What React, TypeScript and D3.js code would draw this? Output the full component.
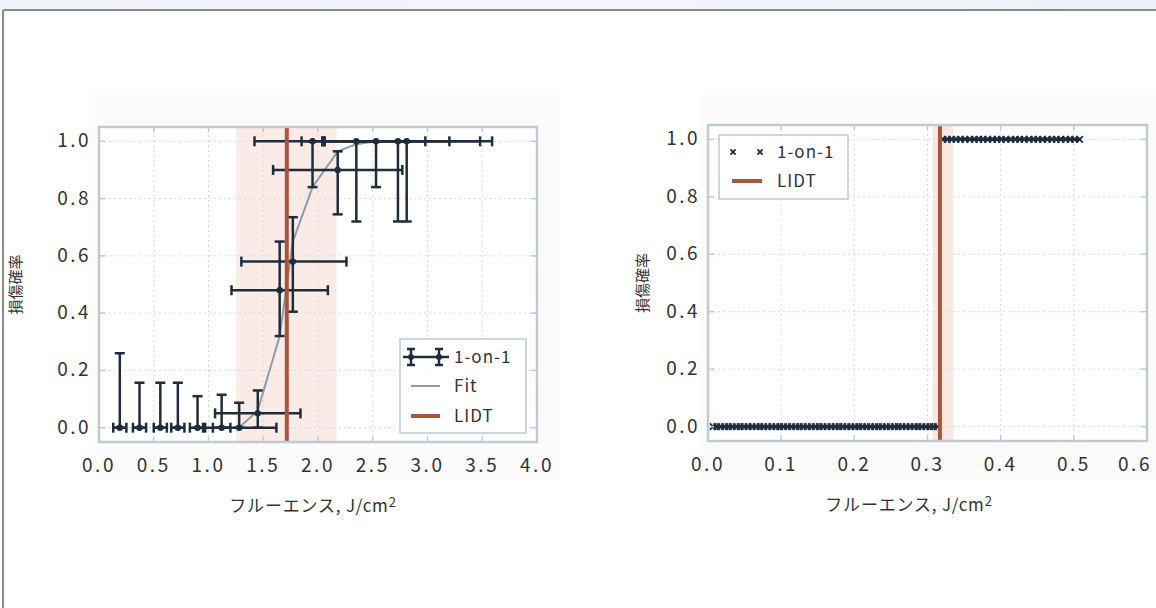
import React from "react";
import * as d3 from "d3";

// ---------- Left chart data ----------
const leftTicksX = [0.0, 0.5, 1.0, 1.5, 2.0, 2.5, 3.0, 3.5, 4.0];
const ticksY = [0.0, 0.2, 0.4, 0.6, 0.8, 1.0];
const leftX = [0.19, 0.37, 0.56, 0.72, 0.9, 1.12, 1.28, 1.45, 1.65, 1.77, 1.95, 2.18, 2.35, 2.53, 2.73, 2.81];
const leftY = [0, 0, 0, 0, 0, 0, 0, 0.05, 0.48, 0.58, 1.0, 0.9, 1.0, 1.0, 1.0, 1.0];
const leftYLo = [0, 0, 0, 0, 0, 0, 0, 0, 0.32, 0.405, 0.84, 0.745, 0.72, 0.84, 0.72, 0.72];
const leftYHi = [0.26, 0.157, 0.157, 0.157, 0.11, 0.115, 0.087, 0.13, 0.65, 0.735, 1.0, 0.965, 1.0, 1.0, 1.0, 1.0];
const leftXLo = [0.13, 0.31, 0.5, 0.66, 0.83, 1.04, 0.95, 1.06, 1.21, 1.3, 1.42, 1.59, 1.85, 2.04, 2.06, 2.04];
const leftXHi = [0.25, 0.43, 0.62, 0.78, 0.97, 1.2, 1.62, 1.84, 2.09, 2.26, 2.06, 2.77, 2.98, 3.2, 3.48, 3.59];
const fitX = [1.28, 1.45, 1.65, 1.77, 1.95, 2.18, 2.35, 2.53];
const fitY = [0.0, 0.06, 0.32, 0.65, 0.84, 0.965, 0.99, 1.0];
const leftLidt = 1.715;
const leftBand = [1.25, 2.17];

// ---------- Right chart data ----------
const rightTicksX = [0.0, 0.1, 0.2, 0.3, 0.4, 0.5, 0.6];
const rightX0 = [0.007, 0.012, 0.017, 0.023, 0.028, 0.033, 0.039, 0.044, 0.049, 0.055, 0.06, 0.066, 0.071, 0.076, 0.082, 0.087, 0.093, 0.098, 0.103, 0.109, 0.114, 0.12, 0.125, 0.13, 0.136, 0.141, 0.147, 0.152, 0.157, 0.163, 0.168, 0.174, 0.179, 0.184, 0.19, 0.195, 0.201, 0.206, 0.211, 0.217, 0.222, 0.228, 0.233, 0.238, 0.244, 0.249, 0.255, 0.26, 0.265, 0.271, 0.276, 0.282, 0.287, 0.292, 0.298, 0.303, 0.308, 0.313];
const rightX1 = [0.321, 0.327, 0.333, 0.339, 0.345, 0.351, 0.358, 0.364, 0.37, 0.376, 0.382, 0.389, 0.395, 0.401, 0.407, 0.414, 0.42, 0.426, 0.432, 0.439, 0.445, 0.451, 0.457, 0.464, 0.47, 0.476, 0.482, 0.489, 0.495, 0.501, 0.508];
const rightLidt = 0.317;
const rightBand = [0.307, 0.335];

const xTitle = "フルーエンス, J/cm";
const yTitle = "損傷確率";

const NAVY = "#1f2c3c";
const LIDT_C = "#a9553a";
const FIT_C = "#8d9cab";
const FRAME_C = "#bfcad3";
const GRID_C = "#d3d8dd";
const TEXT_C = "#333333";
const FONT = "'Noto Sans CJK JP', 'Noto Sans', sans-serif";

function fmt(v: number) {
  return v.toFixed(1);
}

function Grid({ x, y, ticksX, ticksYv }: any) {
  const [x0, x1] = x.range();
  const [y0, y1] = y.range();
  return (
    <g>
      {ticksX.map((t: number, i: number) => (
        <line key={"gx" + i} x1={x(t)} x2={x(t)} y1={y0} y2={y1} stroke={GRID_C} strokeWidth={1} strokeDasharray="2,3" />
      ))}
      {ticksYv.map((t: number, i: number) => (
        <line key={"gy" + i} x1={x0} x2={x1} y1={y(t)} y2={y(t)} stroke={GRID_C} strokeWidth={1} strokeDasharray="2,3" />
      ))}
    </g>
  );
}

function FrameBox({ x, y, ticksX, ticksYv }: any) {
  const [x0, x1] = x.range();
  const [y0, y1] = y.range();
  return (
    <g>
      {ticksX.map((t: number, i: number) => (
        <g key={"tx" + i}>
          <line x1={x(t)} x2={x(t)} y1={y0} y2={y0 - 5} stroke={FRAME_C} strokeWidth={1.5} />
          <line x1={x(t)} x2={x(t)} y1={y1} y2={y1 + 5} stroke={FRAME_C} strokeWidth={1.5} />
        </g>
      ))}
      {ticksYv.map((t: number, i: number) => (
        <g key={"ty" + i}>
          <line x1={x0} x2={x0 + 6} y1={y(t)} y2={y(t)} stroke={FRAME_C} strokeWidth={1.5} />
          <line x1={x1} x2={x1 - 6} y1={y(t)} y2={y(t)} stroke={FRAME_C} strokeWidth={1.5} />
        </g>
      ))}
      <rect x={x0} y={y1} width={x1 - x0} height={y0 - y1} fill="none" stroke={FRAME_C} strokeWidth={2.5} />
    </g>
  );
}

function AxisLabels({ x, y, ticksX, ticksYv, cx, maxLabelX, yTitleOffset }: any) {
  const [x0] = x.range();
  const [y0, y1] = y.range();
  return (
    <g fontFamily={FONT} fill={TEXT_C}>
      {ticksX.map((t: number, i: number) => (
        <text key={"lx" + i} x={Math.min(x(t), maxLabelX)} y={y0 + 30} fontSize={19} textAnchor="middle" letterSpacing={2.5}>
          {fmt(t)}
        </text>
      ))}
      {ticksYv.map((t: number, i: number) => (
        <text key={"ly" + i} x={x0 - 8} y={y(t) + 6} fontSize={19} textAnchor="end" letterSpacing={2.5}>
          {fmt(t)}
        </text>
      ))}
      <text x={cx} y={y0 + 70} fontSize={17} textAnchor="middle" letterSpacing={0.8}>
        {xTitle}
        <tspan fontSize={13} dy={-5}>2</tspan>
      </text>
      <text
        transform={`translate(${x0 - yTitleOffset},${(y0 + y1) / 2}) rotate(-90)`}
        fontSize={15}
        textAnchor="middle"
      >
        {yTitle}
      </text>
    </g>
  );
}

function LeftChart() {
  const x = d3.scaleLinear().domain([0, 4]).range([99, 537]);
  const y = d3.scaleLinear().domain([-0.05, 1.05]).range([442, 127]);
  const fitLine = d3
    .line<number>()
    .x((_, i) => x(fitX[i]))
    .y((d) => y(d));
  const cap = 5;
  return (
    <g>
      <rect x={90} y={95} width={470} height={385} fill="#fbfbfb" />
      <rect x={99} y={127} width={438} height={315} fill="#ffffff" />
      <rect x={x(leftBand[0])} y={127} width={x(leftBand[1]) - x(leftBand[0])} height={315} fill="#f4d3c8" opacity={0.45} />
      <Grid x={x} y={y} ticksX={leftTicksX} ticksYv={ticksY} />
      <path d={fitLine(fitY) || ""} fill="none" stroke={FIT_C} strokeWidth={2} />
      {leftX.map((v, i) => (
        <g key={"e" + i} stroke={NAVY} strokeWidth={2.5}>
          <line x1={x(leftXLo[i])} x2={x(leftXHi[i])} y1={y(leftY[i])} y2={y(leftY[i])} />
          <line x1={x(leftXLo[i])} x2={x(leftXLo[i])} y1={y(leftY[i]) - cap} y2={y(leftY[i]) + cap} />
          <line x1={x(leftXHi[i])} x2={x(leftXHi[i])} y1={y(leftY[i]) - cap} y2={y(leftY[i]) + cap} />
          <line x1={x(v)} x2={x(v)} y1={y(leftYLo[i])} y2={y(leftYHi[i])} />
          <line x1={x(v) - cap} x2={x(v) + cap} y1={y(leftYLo[i])} y2={y(leftYLo[i])} />
          <line x1={x(v) - cap} x2={x(v) + cap} y1={y(leftYHi[i])} y2={y(leftYHi[i])} />
          <circle cx={x(v)} cy={y(leftY[i])} r={3.2} fill={NAVY} stroke="none" />
        </g>
      ))}
      <line x1={x(leftLidt)} x2={x(leftLidt)} y1={127} y2={442} stroke={LIDT_C} strokeWidth={4} />
      <FrameBox x={x} y={y} ticksX={leftTicksX} ticksYv={ticksY} />
      {/* legend */}
      <g>
        <rect x={400} y={339} width={126} height={94} fill="#ffffff" fillOpacity={0.85} stroke={FRAME_C} strokeWidth={1.5} />
        <g stroke={NAVY} strokeWidth={2.5}>
          <line x1={403} x2={449} y1={357} y2={357} />
          {[411, 439].map((mx) => (
            <g key={mx}>
              <line x1={mx} x2={mx} y1={349} y2={365} />
              <line x1={mx - 4} x2={mx + 4} y1={349} y2={349} />
              <line x1={mx - 4} x2={mx + 4} y1={365} y2={365} />
              <circle cx={mx} cy={357} r={3} fill={NAVY} stroke="none" />
            </g>
          ))}
        </g>
        <line x1={411} x2={440} y1={386} y2={386} stroke={FIT_C} strokeWidth={2} />
        <line x1={411} x2={440} y1={416} y2={416} stroke={LIDT_C} strokeWidth={4} />
        <g fontFamily={FONT} fontSize={17} fill={TEXT_C} letterSpacing={1}>
          <text x={454} y={363}>1-on-1</text>
          <text x={454} y={392}>Fit</text>
          <text x={454} y={422}>LIDT</text>
        </g>
      </g>
      <AxisLabels x={x} y={y} ticksX={leftTicksX} ticksYv={ticksY} cx={313} maxLabelX={2000} yTitleOffset={78} />
    </g>
  );
}

function XMark({ cx, cy, s = 3.2 }: { cx: number; cy: number; s?: number }) {
  return (
    <path d={`M${cx - s},${cy - s}L${cx + s},${cy + s}M${cx - s},${cy + s}L${cx + s},${cy - s}`} stroke={NAVY} strokeWidth={1.8} fill="none" />
  );
}

function RightChart() {
  const x = d3.scaleLinear().domain([0, 0.6]).range([708, 1147]);
  const y = d3.scaleLinear().domain([-0.05, 1.05]).range([441, 125]);
  return (
    <g>
      <rect x={700} y={95} width={456} height={385} fill="#fbfbfb" />
      <rect x={708} y={125} width={439} height={316} fill="#ffffff" />
      <rect x={x(rightBand[0])} y={125} width={x(rightBand[1]) - x(rightBand[0])} height={316} fill="#f4d3c8" opacity={0.55} />
      <Grid x={x} y={y} ticksX={rightTicksX} ticksYv={ticksY} />
      <line x1={x(rightX0[0])} x2={x(rightX0[rightX0.length - 1])} y1={y(0)} y2={y(0)} stroke={NAVY} strokeWidth={3.5} />
      <line x1={x(rightX1[0])} x2={x(rightX1[rightX1.length - 1])} y1={y(1)} y2={y(1)} stroke={NAVY} strokeWidth={3.5} />
      {rightX0.map((v, i) => (
        <XMark key={"a" + i} cx={x(v)} cy={y(0)} />
      ))}
      {rightX1.map((v, i) => (
        <XMark key={"b" + i} cx={x(v)} cy={y(1)} />
      ))}
      <line x1={x(rightLidt)} x2={x(rightLidt)} y1={125} y2={441} stroke={LIDT_C} strokeWidth={4} />
      <FrameBox x={x} y={y} ticksX={rightTicksX} ticksYv={ticksY} />
      <g>
        <rect x={719} y={135} width={129} height={64} fill="#ffffff" fillOpacity={0.85} stroke={FRAME_C} strokeWidth={1.5} />
        <XMark cx={733} cy={152} s={2.6} />
        <XMark cx={760} cy={152} s={2.6} />
        <line x1={732} x2={762} y1={181} y2={181} stroke={LIDT_C} strokeWidth={4} />
        <g fontFamily={FONT} fontSize={17} fill={TEXT_C} letterSpacing={1}>
          <text x={777} y={158}>1-on-1</text>
          <text x={777} y={187}>LIDT</text>
        </g>
      </g>
      <AxisLabels x={x} y={y} ticksX={rightTicksX} ticksYv={ticksY} cx={909} maxLabelX={1135} yTitleOffset={60} />
    </g>
  );
}

export default function App() {
  return (
    <div style={{ position: "fixed", left: 0, top: 0, width: 1156, height: 608, background: "#fff" }}>
      <svg width={1156} height={608} viewBox="0 0 1156 608" style={{ display: "block" }}>
        <defs>
          <linearGradient id="topg" x1="0" x2="1" y1="0" y2="0">
            <stop offset="0" stopColor="#eef3f9" />
            <stop offset="0.5" stopColor="#f3f7fb" />
            <stop offset="1" stopColor="#eaf1f8" />
          </linearGradient>
        </defs>
        <rect x={0} y={0} width={1156} height={10} fill="url(#topg)" />
        <rect x={0} y={10} width={1156} height={598} fill="#ffffff" />
        <line x1={3} x2={1156} y1={10} y2={10} stroke="#8a8a8a" strokeWidth={2} />
        <line x1={3} x2={3} y1={10} y2={608} stroke="#8a8a8a" strokeWidth={2} />
        <LeftChart />
        <RightChart />
      </svg>
    </div>
  );
}
